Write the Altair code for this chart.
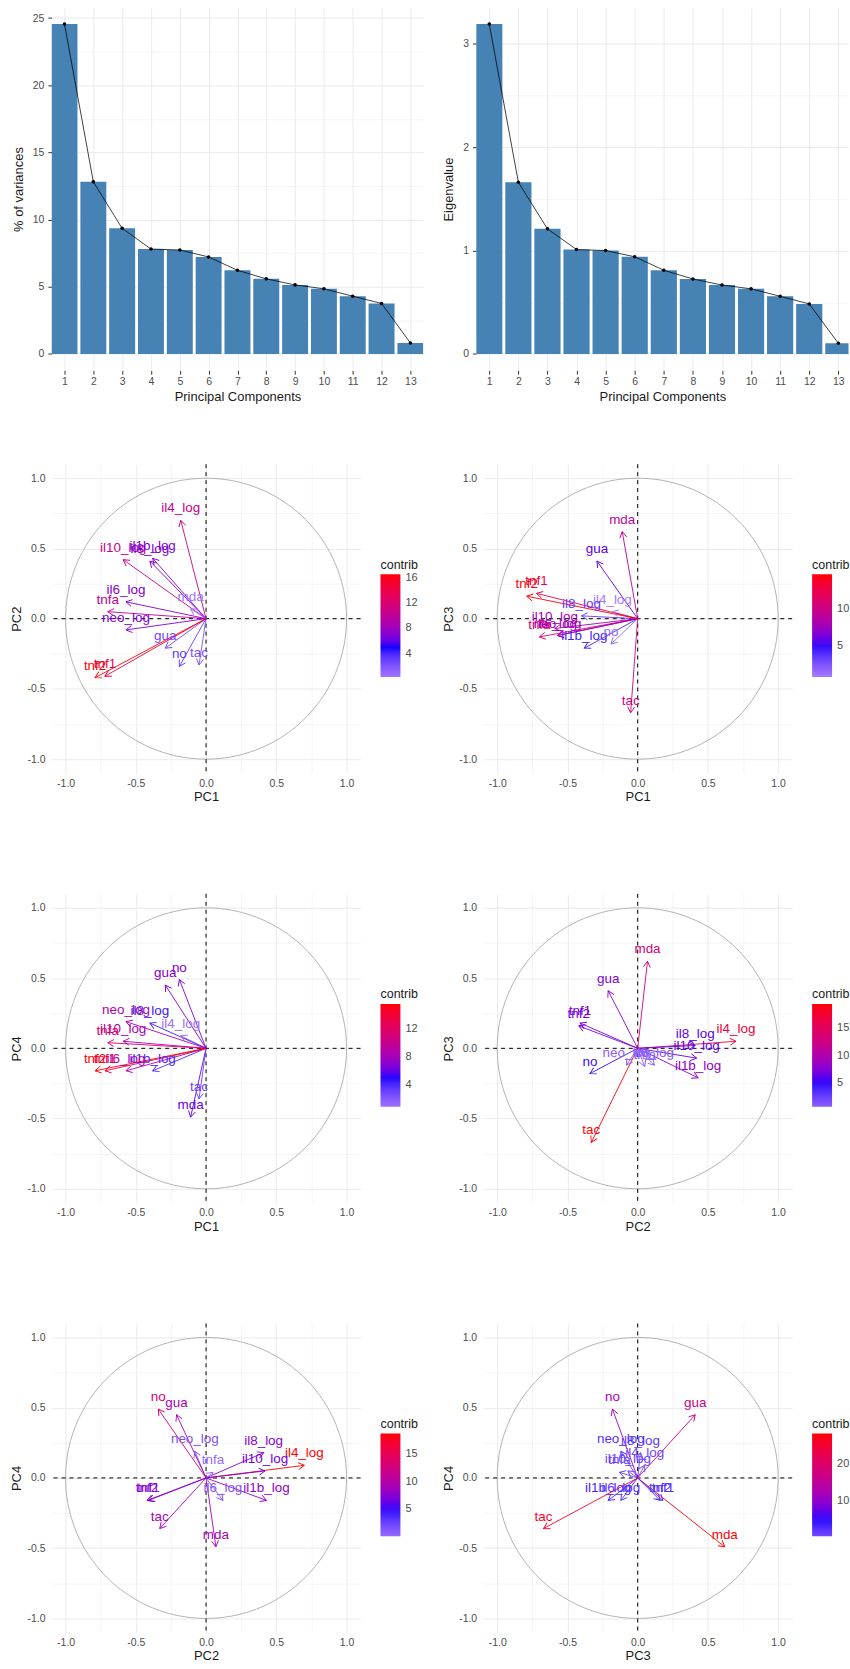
import altair as alt
import numpy as np
import pandas as pd

# ---------------- data ----------------
pcs = list(range(1, 14))
pct_variance = [24.55, 12.81, 9.35, 7.81, 7.74, 7.22, 6.23, 5.59, 5.14, 4.85, 4.30, 3.76, 0.82]
eigenvalues = [3.19, 1.66, 1.21, 1.01, 1.00, 0.94, 0.81, 0.725, 0.667, 0.63, 0.558, 0.484, 0.103]

variables = ["il4_log", "il10_log", "il8_log", "il1b_log", "il6_log", "tnfa", "neo_log",
             "mda", "gua", "no", "tac", "tnf1", "tnf2"]
pc1 = [-0.18, -0.59, -0.40, -0.38, -0.57, -0.70, -0.57, -0.11, -0.29, -0.19, -0.05, -0.72, -0.79]
pc2 = [0.70, 0.42, 0.41, 0.43, 0.12, 0.05, -0.08, 0.07, -0.21, -0.34, -0.33, -0.41, -0.42]
pc3 = [0.05, -0.07, 0.02, -0.21, -0.12, -0.13, -0.12, 0.62, 0.41, -0.18, -0.67, 0.18, 0.16]
pc4 = [0.09, 0.05, 0.18, -0.16, -0.16, 0.04, 0.19, -0.49, 0.45, 0.49, -0.36, -0.16, -0.16]
loadings = {1: pc1, 2: pc2, 3: pc3, 4: pc4}

legend_ticks = {(1, 2): [4, 8, 12, 16], (1, 3): [5, 10], (1, 4): [4, 8, 12],
                (2, 3): [5, 10, 15], (2, 4): [5, 10, 15], (3, 4): [10, 20]}
pca_major = [-1.0, -0.5, 0.0, 0.5, 1.0]
pca_minor = [-0.75, -0.25, 0.25, 0.75]
zero_ref = [0.0]

FONT = "Liberation Sans"
LABEL_COL = "#4d4d4d"
TITLE_COL = "#1a1a1a"
GRID_COL = "#EBEBEB"
MID = 5.0  # midpoint of the white-blue-red gradient


# ---------------- colour helpers (ggplot gradient2 in Lab) ----------------
def _lab(hexc):
    r, g, b = [int(hexc[i:i + 2], 16) / 255 for i in (1, 3, 5)]
    lin = [c / 12.92 if c <= 0.04045 else ((c + 0.055) / 1.055) ** 2.4 for c in (r, g, b)]
    X = (0.4124 * lin[0] + 0.3576 * lin[1] + 0.1805 * lin[2]) / 0.95047
    Y = (0.2126 * lin[0] + 0.7152 * lin[1] + 0.0722 * lin[2])
    Z = (0.0193 * lin[0] + 0.1192 * lin[1] + 0.9505 * lin[2]) / 1.08883
    f = lambda t: t ** (1 / 3) if t > (6 / 29) ** 3 else t / (3 * (6 / 29) ** 2) + 4 / 29
    fx, fy, fz = f(X), f(Y), f(Z)
    return (116 * fy - 16, 500 * (fx - fy), 200 * (fy - fz))


def _hex(lab):
    L, a, b = lab
    fy = (L + 16) / 116
    fx = fy + a / 500
    fz = fy - b / 200
    finv = lambda t: t ** 3 if t > 6 / 29 else 3 * (6 / 29) ** 2 * (t - 4 / 29)
    X, Y, Z = finv(fx) * 0.95047, finv(fy), finv(fz) * 1.08883
    lin = [3.2406 * X - 1.5372 * Y - 0.4986 * Z,
           -0.9689 * X + 1.8758 * Y + 0.0415 * Z,
           0.0557 * X - 0.2040 * Y + 1.0570 * Z]
    out = []
    for c in lin:
        c = min(max(c, 0.0), 1.0)
        c = 12.92 * c if c <= 0.0031308 else 1.055 * c ** (1 / 2.4) - 0.055
        out.append(int(round(c * 255)))
    return "#%02x%02x%02x" % tuple(out)


def _mix(h1, h2, t):
    l1, l2 = _lab(h1), _lab(h2)
    return _hex(tuple(p + (q - p) * t for p, q in zip(l1, l2)))


def div_color(t):
    t = min(max(t, 0.0), 1.0)
    if t <= 0.5:
        return _mix("#FFFFFF", "#0000FF", t / 0.5)
    return _mix("#0000FF", "#FF0000", (t - 0.5) / 0.5)


AXIS_TXT = dict(labelFont=FONT, titleFont=FONT, labelFontSize=10.5, titleFontSize=13,
                labelColor=LABEL_COL, titleColor=TITLE_COL, titleFontWeight="normal")


# ---------------- scree plots ----------------
def scree(values, ytitle, major, minor, xmax, width):
    df = pd.DataFrame({"pc": pcs, "value": values})
    vmax = max(values)
    ydom = [-0.05 * vmax, 1.05 * vmax]
    major_vals = [float(v) for v in np.arange(0, ydom[1], major)]
    minor_vals = [float(v) for v in np.arange(minor, ydom[1], major)]
    xscale = alt.Scale(domain=[0.55, xmax], nice=False, zero=False)
    yscale = alt.Scale(domain=ydom, nice=False, zero=False)
    xaxis = alt.Axis(title="Principal Components", values=pcs, orient="bottom", grid=True,
                     gridColor=GRID_COL, gridWidth=1, ticks=True, tickSize=3.7,
                     tickColor="#333333", tickWidth=1, labelPadding=2.5, titlePadding=3,
                     domain=False, labelAngle=0, labelOverlap=False, labelFlush=False,
                     labelSeparation=0, format="d", **AXIS_TXT)
    yaxis = alt.Axis(title=ytitle, values=major_vals, grid=True, gridColor=GRID_COL,
                     gridWidth=1, ticks=True, tickSize=3.7, tickColor="#333333", tickWidth=1,
                     labelPadding=4, titlePadding=7, domain=False, labelOverlap=False,
                     **AXIS_TXT)
    yminor = alt.Axis(title=None, values=minor_vals, grid=True, gridColor=GRID_COL,
                      gridWidth=0.5, ticks=False, labels=False, domain=False)
    # x axis is shared: the same axis definition in every layer
    bars = alt.Chart(df).transform_calculate(
        x0="datum.pc - 0.45", x1="datum.pc + 0.45"
    ).mark_rect(color="#4682B4", clip=True).encode(
        x=alt.X("x0:Q", scale=xscale, axis=xaxis),
        x2="x1:Q",
        y=alt.Y("value:Q", scale=yscale, axis=yaxis),
        y2=alt.datum(0),
    )
    line = alt.Chart(df).mark_line(color="black", strokeWidth=0.75, clip=True).encode(
        x=alt.X("pc:Q", scale=xscale, axis=xaxis),
        y=alt.Y("value:Q", scale=yscale, axis=yminor),
    )
    pts = alt.Chart(df).mark_circle(color="black", size=13, opacity=1, clip=True).encode(
        x=alt.X("pc:Q", scale=xscale, axis=xaxis),
        y=alt.Y("value:Q", scale=yscale, axis=None),
    )
    return alt.layer(bars, line, pts).resolve_axis(y="independent").properties(
        width=width, height=364)


# ---------------- correlation circles ----------------
ang = np.linspace(0, 2 * np.pi, 241)
circle_df = pd.DataFrame({"cx": np.cos(ang), "cy": np.sin(ang), "i": np.arange(len(ang))})
ARROW = "M -0.5 0.866 L 0 0 L 0.5 0.866"


def pca_axis(title, orient):
    common = dict(title=title, values=pca_major, format=".1f", grid=True, gridColor=GRID_COL,
                  gridWidth=1, ticks=False, tickSize=0, domain=False, labelOverlap=False,
                  **AXIS_TXT)
    if orient == "x":
        return alt.Axis(labelPadding=5, titlePadding=2, labelAngle=0, labelFlush=False, **common)
    return alt.Axis(labelPadding=6.5, titlePadding=3.5, **common)


minor_axis = alt.Axis(title=None, values=pca_minor, grid=True, gridColor=GRID_COL, gridWidth=0.5,
                      ticks=False, labels=False, domain=False)


def pca_panel(a, b):
    df = pd.DataFrame({"variable": variables, "x": loadings[a], "y": loadings[b]})
    df["x0"] = 0.0
    df["y0"] = 0.0
    df["contrib"] = 100 * (df["x"] ** 2 + df["y"] ** 2) / (eigenvalues[a - 1] + eigenvalues[b - 1])
    df["angle"] = (np.degrees(np.arctan2(df["x"], df["y"])) + 360) % 360
    lo, hi = float(df["contrib"].min()), float(df["contrib"].max())
    ext = max(abs(lo - MID), abs(hi - MID))
    stops = np.linspace(lo, hi, 15)
    colours = [div_color((s - MID) / ext / 2 + 0.5) for s in stops]
    cscale = alt.Scale(domain=[lo, hi], range=colours, interpolate="lab", nice=False, zero=False)
    # identical colours for arrows; tiny domain pad keeps its (hidden) legend separate
    sscale = alt.Scale(domain=[lo - 1e-6, hi + 1e-6], range=colours, interpolate="lab",
                       nice=False, zero=False)
    leg = alt.Legend(title="contrib", type="gradient", orient="none", legendX=330, legendY=95,
                     direction="vertical", gradientLength=103, gradientThickness=20,
                     gradientStrokeWidth=0, values=legend_ticks[(a, b)], titleFontSize=12.5,
                     titleFontWeight="normal", titleColor=TITLE_COL, titlePadding=3,
                     labelFontSize=11, labelColor=LABEL_COL, labelOffset=5, padding=0,
                     titleFont=FONT, labelFont=FONT)
    text_color = alt.Color("contrib:Q", scale=cscale, legend=leg)
    line_color = alt.Stroke("contrib:Q", scale=sscale, legend=None)
    sc = alt.Scale(domain=[-1.1, 1.1], nice=False, zero=False)

    circle = alt.Chart(circle_df).mark_line(color="#aaaaaa", strokeWidth=0.9).encode(
        x=alt.X("cx:Q", scale=sc, axis=pca_axis(f"PC{a}", "x")),
        y=alt.Y("cy:Q", scale=sc, axis=pca_axis(f"PC{b}", "y")),
        order="i:Q",
    )
    ref = pd.DataFrame({"ref": zero_ref})
    hline = alt.Chart(ref).mark_rule(color="black", strokeWidth=1, strokeDash=[4, 4]).encode(
        y=alt.Y("ref:Q", scale=sc, axis=None))
    vline = alt.Chart(ref).mark_rule(color="black", strokeWidth=1, strokeDash=[4, 4]).encode(
        x=alt.X("ref:Q", scale=sc, axis=None))
    segs = alt.Chart(df).mark_rule(strokeWidth=0.9).encode(
        x=alt.X("x0:Q", scale=sc, axis=minor_axis), y=alt.Y("y0:Q", scale=sc, axis=minor_axis),
        x2="x:Q", y2="y:Q", stroke=line_color)
    heads = alt.Chart(df).mark_point(shape=ARROW, filled=False, size=196, strokeWidth=0.9,
                                     opacity=1).encode(
        x=alt.X("x:Q", scale=sc, axis=None), y=alt.Y("y:Q", scale=sc, axis=None),
        angle=alt.Angle("angle:Q", scale=None), stroke=line_color)
    labels = alt.Chart(df).mark_text(dy=-12, fontSize=13.5, font=FONT).encode(
        x=alt.X("x:Q", scale=sc, axis=None), y=alt.Y("y:Q", scale=sc, axis=None),
        text="variable:N", color=text_color)
    return alt.layer(circle, hline, vline, segs, heads, labels).resolve_axis(
        x="independent", y="independent").properties(width=310, height=310)


def row(left, right, spacing):
    return alt.hconcat(left, right, spacing=spacing).resolve_scale(
        color="independent", stroke="independent")


row1 = row(scree(pct_variance, "% of variances", 5, 2.5, 13.45, 373),
           scree(eigenvalues, "Eigenvalue", 1, 0.5, 13.35, 373.5), 19)
row2 = row(pca_panel(1, 2), pca_panel(1, 3), 23)
row3 = row(pca_panel(1, 4), pca_panel(2, 3), 23)
row4 = row(pca_panel(2, 4), pca_panel(3, 4), 23)
lower = alt.vconcat(row2, row3, row4, spacing=89).resolve_scale(
    color="independent", stroke="independent")

chart = alt.vconcat(row1, lower, spacing=60).resolve_scale(
    color="independent", stroke="independent").properties(
    padding={"left": 9.7, "top": 5, "right": 0, "bottom": 0},
    background="white",
).configure(
    locale={"number": {"decimal": ".", "thousands": ",", "grouping": [3],
                       "currency": ["$", ""], "minus": "-"}}
).configure_view(strokeWidth=0, stroke="transparent").configure_axis(
    labelOverlap=False, **AXIS_TXT
).configure_text(font=FONT)

chart.save("out.html", embed_options={"renderer": "svg", "actions": False})
